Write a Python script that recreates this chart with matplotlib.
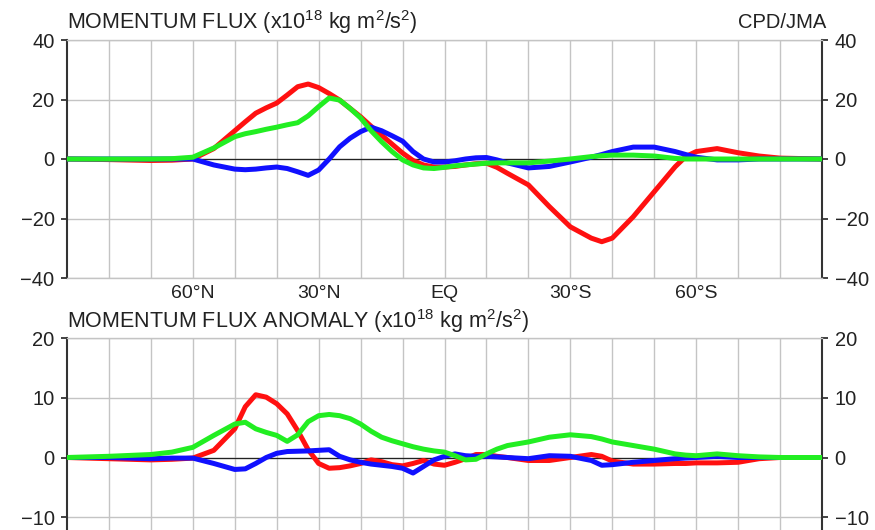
import numpy as np
from matplotlib import pyplot as plt

plt.rcParams['font.family'] = ['Liberation Sans', 'DejaVu Sans']
plt.rcParams['mathtext.fontset'] = 'custom'
plt.rcParams['mathtext.rm'] = 'Liberation Sans'
plt.rcParams['mathtext.it'] = 'Liberation Sans:italic'

# latitude (positive = north), shared by all series
lat = [90, 80, 70, 65, 60, 55, 50, 47.5, 45, 42.5, 40, 37.5, 35, 32.5, 30,
       27.5, 25, 22.5, 20, 17.5, 15, 12.5, 10, 7.5, 5, 2.5, 0, -2.5, -5,
       -7.5, -10, -12.5, -15, -20, -25, -30, -35, -37.5, -40, -45, -50,
       -55, -57.5, -60, -65, -70, -75, -80, -90]

# momentum flux
flux_red = [0, -0.2, -0.5, -0.4, 0, 3.5, 9.5, 12.5, 15.4, 17.2, 18.8, 21.5,
            24.3, 25.2, 24, 22, 19.8, 17, 14.2, 11, 8, 5, 2, -0.5, -2, -2.7,
            -2.7, -2.5, -2, -1.6, -1.4, -2.8, -4.8, -8.7, -16, -22.8, -26.6,
            -27.8, -26.6, -19.4, -11, -2.6, 0.8, 2.5, 3.5, 2.1, 1, 0.3, 0]
flux_green = [0, 0, 0, 0.1, 0.6, 3.7, 7.5, 8.5, 9.2, 10, 10.7, 11.5, 12.2,
              14.5, 17.6, 20.5, 19.8, 17, 13.8, 9.5, 5.8, 2.5, -0.3, -2, -3,
              -3.2, -2.8, -2.3, -2, -1.7, -1.4, -1.3, -1.3, -1.3, -0.7, 0,
              0.8, 1.1, 1.3, 1.3, 1, 0.2, 0, 0, 0, 0, 0, 0, 0]
flux_blue = [0, 0, 0, 0, 0, -2, -3.4, -3.6, -3.4, -3, -2.7, -3.2, -4.3,
             -5.5, -3.7, 0, 4.1, 7, 9.2, 10.7, 9.5, 7.8, 6, 2.5, 0, -1, -1,
             -0.6, 0, 0.4, 0.5, -0.3, -1.3, -3, -2.5, -1, 0.6, 1.5, 2.5, 4,
             4, 2.5, 1.5, 0.6, -0.3, -0.3, 0, 0, 0]

# momentum flux anomaly
anom_red = [0, -0.2, -0.4, -0.3, -0.1, 1.2, 4.8, 8.5, 10.5, 10.1, 9, 7.3,
            4.5, 1.3, -1, -1.8, -1.7, -1.4, -1, -0.4, -0.7, -1.2, -1.4, -1,
            -0.5, -1.1, -1.3, -0.8, -0.2, 0.5, 0.5, 0.2, 0, -0.5, -0.5, 0,
            0.5, 0.2, -0.6, -1.1, -1.1, -1, -1, -0.9, -0.9, -0.8, -0.2, 0, 0]
anom_green = [0, 0.2, 0.5, 0.9, 1.7, 3.7, 5.6, 5.9, 4.8, 4.2, 3.7, 2.7, 3.8,
              6, 7, 7.2, 7, 6.5, 5.6, 4.4, 3.4, 2.8, 2.3, 1.8, 1.4, 1.1, 0.9,
              0.3, -0.4, -0.3, 0.6, 1.4, 2, 2.6, 3.4, 3.8, 3.5, 3.1, 2.6, 2,
              1.4, 0.6, 0.4, 0.3, 0.6, 0.3, 0.1, 0, 0]
anom_blue = [0, 0, -0.2, -0.1, -0.1, -1, -2, -1.9, -1, 0, 0.7, 1, 1.05, 1.1,
             1.2, 1.3, 0.2, -0.4, -0.8, -1.1, -1.3, -1.5, -1.8, -2.6, -1.5,
             -0.4, 0.2, 0.6, 0.3, 0.2, 0.2, 0.1, 0, -0.2, 0.3, 0.2, -0.5,
             -1.3, -1.2, -0.8, -0.5, -0.2, -0.1, 0, 0.2, 0, 0, 0, 0]

lat_ticks = [60, 30, 0, -30, -60]
lat_labels = ['60°N', '30°N', 'EQ', '30°S', '60°S']

W, H = 875, 530
fig = plt.figure(figsize=(W / 100, H / 100), dpi=100)

# pixel boxes: left, right, top, bottom (bottom panel runs past the image)
ax1 = fig.add_axes([67 / W, 1 - 278 / H, 755 / W, 238 / H])
ax2 = fig.add_axes([67 / W, 1 - 577 / H, 755 / W, 239 / H])


def style_axis(ax, ylim, yticks, show_x=True):
    ax.set_xlim(90, -90)
    ax.set_ylim(*ylim)
    ax.set_xticks(np.arange(80, -90, -10), minor=True)
    ax.set_xticks(lat_ticks)
    ax.set_xticklabels(lat_labels if show_x else [], fontsize=14)
    ax.set_yticks(yticks)
    ax.set_yticklabels(['\u2212' + str(-t) if t < 0 else str(t) for t in yticks],
                       fontsize=14.5)
    ax.grid(True, which='both', color='#c4c4c4', lw=1)
    ax.tick_params(axis='x', which='both', length=0, pad=5, colors='#222222')
    ax.tick_params(axis='y', direction='out', length=4, width=1.2,
                   left=True, right=True, labelleft=True, labelright=True,
                   pad=5, colors='#222222')
    for side in ['top', 'bottom']:
        ax.spines[side].set_color('#c4c4c4')
        ax.spines[side].set_linewidth(1)
    for side in ['left', 'right']:
        ax.spines[side].set_color('#333333')
        ax.spines[side].set_linewidth(1.5)
    ax.axhline(0, color='#222222', lw=0.9, zorder=2)


def draw_lines(ax, red, blue, green):
    ax.plot(lat, red, color='#ff1010', lw=3.6, solid_capstyle='round', zorder=3)
    ax.plot(lat, blue, color='#1010ff', lw=3.6, solid_capstyle='round', zorder=4)
    ax.plot(lat, green, color='#22ee22', lw=3.6, solid_capstyle='round', zorder=5)


style_axis(ax1, (-40, 40), [-40, -20, 0, 20, 40])
draw_lines(ax1, flux_red, flux_blue, flux_green)

style_axis(ax2, (-20, 20), [-10, 0, 10, 20], show_x=False)
draw_lines(ax2, anom_red, anom_blue, anom_green)

unit = r'(x10$^{18}$ kg m$^{2}$/s$^{2}$)'
fig.text(67 / W, 1 - 29 / H, 'MOMENTUM FLUX ' + unit, fontsize=15.5,
         va='baseline', ha='left', color='#222222')
fig.text(826 / W, 1 - 28 / H, 'CPD/JMA', fontsize=14.5,
         va='baseline', ha='right', color='#222222')
fig.text(67 / W, 1 - 328 / H, 'MOMENTUM FLUX ANOMALY ' + unit, fontsize=15.5,
         va='baseline', ha='left', color='#222222')

fig.savefig('out.png', dpi=100)
